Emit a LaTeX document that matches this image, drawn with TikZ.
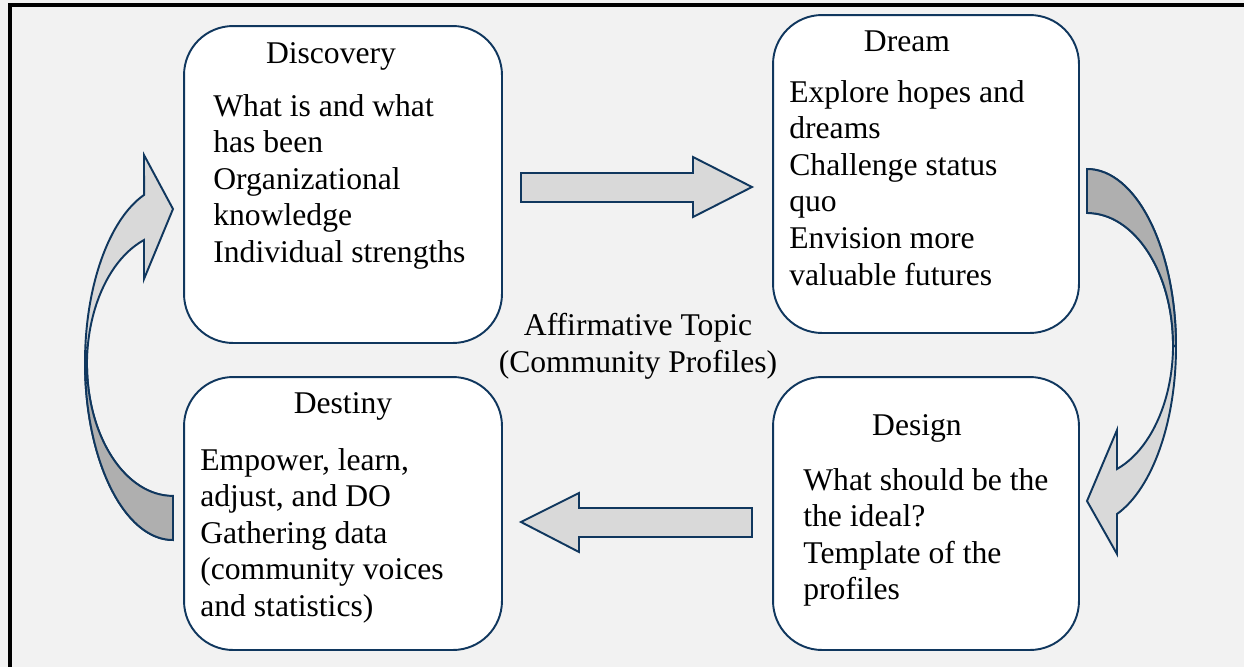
\documentclass[tikz,border=0pt]{standalone}
\usepackage{fontspec}
\setmainfont{Liberation Serif}
\usepackage{xcolor}
\definecolor{navy}{RGB}{16,55,94}
\definecolor{pagegray}{RGB}{242,242,242}
\definecolor{lightarrow}{RGB}{217,217,217}
\definecolor{darkarrow}{RGB}{175,175,175}

\begin{document}
\begin{tikzpicture}[x=0.02cm,y=-0.02cm]
\tikzstyle{stage}=[draw=navy, line width=1.1pt, fill=white, rounded corners=0.98cm]
\tikzstyle{txt}=[inner sep=0pt, font=\fontsize{18}{20.8}\selectfont]
\tikzstyle{blockarrow}=[draw=navy, line width=1.1pt, fill=lightarrow]

\fill[pagegray] (0,0) rectangle (1244,667);
\useasboundingbox (0,0) rectangle (1244,667);
\draw[line width=2.3pt] (8,5) -- (1244,5);
\draw[line width=2.3pt] (10,3) -- (10,667);

\node[stage, minimum width=6.36cm, minimum height=6.34cm](disc) at (343,184.5){};
\node[stage, minimum width=6.12cm, minimum height=6.36cm](dream) at (926,174){};
\node[stage, minimum width=6.36cm, minimum height=5.46cm](dest) at (343,513.5){};
\node[stage, minimum width=6.12cm, minimum height=5.46cm](design) at (926,513.5){};

\node[txt, anchor=base](discT) at (331,63){Discovery};
\node[txt, anchor=north west, align=left](discB) at (213,94){What is and what\\has been\\Organizational\\knowledge\\Individual strengths};

\node[txt, anchor=base](dreamT) at (907,51){Dream};
\node[txt, anchor=north west, align=left](dreamB) at (789,80){Explore hopes and\\dreams\\Challenge status\\quo\\Envision more\\valuable futures};

\node[txt, anchor=base](destT) at (343,413){Destiny};
\node[txt, anchor=north west, align=left](destB) at (200,448){Empower, learn,\\adjust, and DO\\Gathering data\\(community voices\\and statistics)};

\node[txt, anchor=base](designT) at (917,435){Design};
\node[txt, anchor=north west, align=left](designB) at (803,468){What should be the\\the ideal?\\Template of the\\profiles};

\node[txt, anchor=north, align=center](topic) at (638,313){Affirmative Topic\\(Community Profiles)};

\draw[blockarrow] (521,173) -- (693,173) -- (693,157) -- (752,187) -- (693,217) -- (693,202) -- (521,202) -- cycle;
\draw[blockarrow] (752,508) -- (579,508) -- (579,493) -- (521,522) -- (579,552) -- (579,537) -- (752,537) -- cycle;

\draw[blockarrow] (173,540) arc[start angle=90,end angle=250.8,x radius=88,y radius=177.5] -- (144,155) -- (173,209) -- (144,279) -- (144,240) arc[start angle=250.3,end angle=90,x radius=86,y radius=131.9] -- cycle;
\draw[blockarrow, fill=darkarrow] (173,540) arc[start angle=90,end angle=180,x radius=88,y radius=177.5] -- (87,364) arc[start angle=180,end angle=90,x radius=86,y radius=131.9] -- cycle;

\draw[blockarrow] (1087,169) arc[start angle=-90,end angle=70.3,x radius=89,y radius=177.7] -- (1117,554) -- (1087,501) -- (1117,430) -- (1117,469) arc[start angle=69.6,end angle=-90,x radius=86,y radius=132.2] -- cycle;
\draw[blockarrow, fill=darkarrow] (1087,169) arc[start angle=-90,end angle=0,x radius=89,y radius=177.7] -- (1173,345.2) arc[start angle=0,end angle=-90,x radius=86,y radius=132.2] -- cycle;
\end{tikzpicture}
\end{document}
